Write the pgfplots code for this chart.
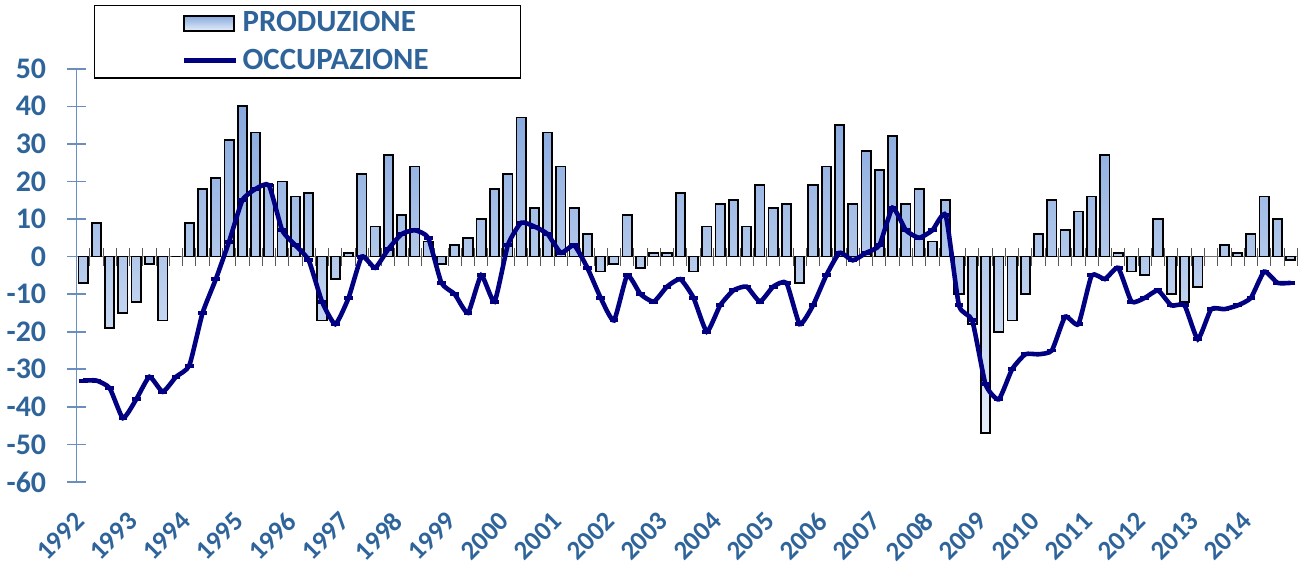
\documentclass[border=0pt]{standalone}
\usepackage{fontspec}
\setmainfont{Carlito}
\usepackage{pgfplots}
\pgfplotsset{compat=1.18}
\usepackage{pgfplotstable}
\definecolor{txtblue}{HTML}{2F649B}
\definecolor{axblue}{HTML}{6A8FBF}
\definecolor{navyline}{HTML}{000080}
\definecolor{bartop}{HTML}{86A8DE}
\definecolor{barbot}{HTML}{E6EEFA}

\pgfplotstableread{
q prod occ
0.5 -7 -33
1.5 9 -33
2.5 -19 -35
3.5 -15 -43
4.5 -12 -38
5.5 -2 -32
6.5 -17 -36
7.5 0 -32
8.5 9 -29
9.5 18 -15
10.5 21 -6
11.5 31 4
12.5 40 15
13.5 33 18
14.5 19 19
15.5 20 7
16.5 16 3
17.5 17 -1
18.5 -17 -12
19.5 -6 -18
20.5 1 -11
21.5 22 0
22.5 8 -3
23.5 27 2
24.5 11 6
25.5 24 7
26.5 4 5
27.5 -2 -7
28.5 3 -10
29.5 5 -15
30.5 10 -5
31.5 18 -12
32.5 22 3
33.5 37 9
34.5 13 8
35.5 33 6
36.5 24 1
37.5 13 3
38.5 6 -3
39.5 -4 -11
40.5 -2 -17
41.5 11 -5
42.5 -3 -10
43.5 1 -12
44.5 1 -8
45.5 17 -6
46.5 -4 -11
47.5 8 -20
48.5 14 -13
49.5 15 -9
50.5 8 -8
51.5 19 -12
52.5 13 -8
53.5 14 -7
54.5 -7 -18
55.5 19 -13
56.5 24 -5
57.5 35 1
58.5 14 -1
59.5 28 1
60.5 23 3
61.5 32 13
62.5 14 7
63.5 18 5
64.5 4 7
65.5 15 11
66.5 -10 -13
67.5 -18 -17
68.5 -47 -34
69.5 -20 -38
70.5 -17 -30
71.5 -10 -26
72.5 6 -26
73.5 15 -25
74.5 7 -16
75.5 12 -18
76.5 16 -5
77.5 27 -6
78.5 1 -3
79.5 -4 -12
80.5 -5 -11
81.5 10 -9
82.5 -10 -13
83.5 -12 -13
84.5 -8 -22
85.5 nan -14
86.5 3 -14
87.5 1 -13
88.5 6 -11
89.5 16 -4
90.5 10 -7
91.5 -1 -7
}\data

\begin{document}
\begin{tikzpicture}
% zero line with quarterly ticks
\begin{axis}[name=zero, scale only axis, width=613pt, height=207.5pt,
  xmin=0, xmax=92, ymin=-60, ymax=50,
  axis x line=middle, axis y line=none,
  x axis line style={-, draw=black!55, line width=0.5pt},
  xtick={0,1,...,92}, xticklabel=\empty, ytick=\empty,
  tick align=center, major tick length=9pt,
  major x tick style={draw=black!65, line width=0.5pt}]
\addplot[draw=none, forget plot] coordinates {(0,0)};
\end{axis}
\begin{axis}[name=main, scale only axis, width=613pt, height=207.5pt,
  xmin=0, xmax=92, ymin=-60, ymax=50,
  axis y line*=left, axis x line*=bottom,
  x axis line style={draw=none},
  y axis line style={-, draw=axblue, line width=0.8pt},
  ytick={-60,-50,...,50},
  xtick={0.5,4.5,...,88.5},
  xticklabels={1992,1993,1994,1995,1996,1997,1998,1999,2000,2001,2002,2003,2004,2005,2006,2007,2008,2009,2010,2011,2012,2013,2014},
  tick align=center, major tick length=9.5pt,
  major x tick style={draw=none},
  major y tick style={draw=axblue, line width=0.8pt},
  /pgf/number format/assume math mode=true,
  yticklabel style={font=\bfseries\fontsize{15}{18}\selectfont, text=txtblue, xshift=-7pt},
  xticklabel style={font=\bfseries\fontsize{13.5}{16}\selectfont, text=txtblue, anchor=center, xshift=-11.5pt, yshift=-22.5pt, rotate=45},
  legend style={at={(0.014,1.154)}, anchor=north west, draw=black, line width=0.6pt,
    font=\bfseries\fontsize{15.5}{17}\selectfont, text=txtblue,
    inner xsep=44pt, inner ysep=1pt, row sep=3pt},
  legend cell align=left,
  clip=false]
\addplot[ybar, bar width=0.7, draw=black, line width=0.9pt, top color=bartop, bottom color=barbot,
  legend image code/.code={\draw[draw=black, line width=0.9pt, top color=bartop, bottom color=barbot] (0pt,-3.75pt) rectangle (25pt,3.75pt);}]
  table[x=q, y=prod]{\data};
\addlegendentry{PRODUZIONE}
\addplot[navyline, line width=2.3pt, smooth, tension=0.3, mark=-, mark size=2.2pt, mark options={solid, line width=2pt},
  legend image code/.code={\draw[navyline, line width=2.5pt] (0pt,0pt) -- (26pt,0pt);}]
  table[x=q, y=occ]{\data};
\addlegendentry{OCCUPAZIONE}
\end{axis}
\path (main.south west) ++(-36.35pt,-42.5pt) rectangle ++(652pt,284.5pt);
\end{tikzpicture}
\end{document}
